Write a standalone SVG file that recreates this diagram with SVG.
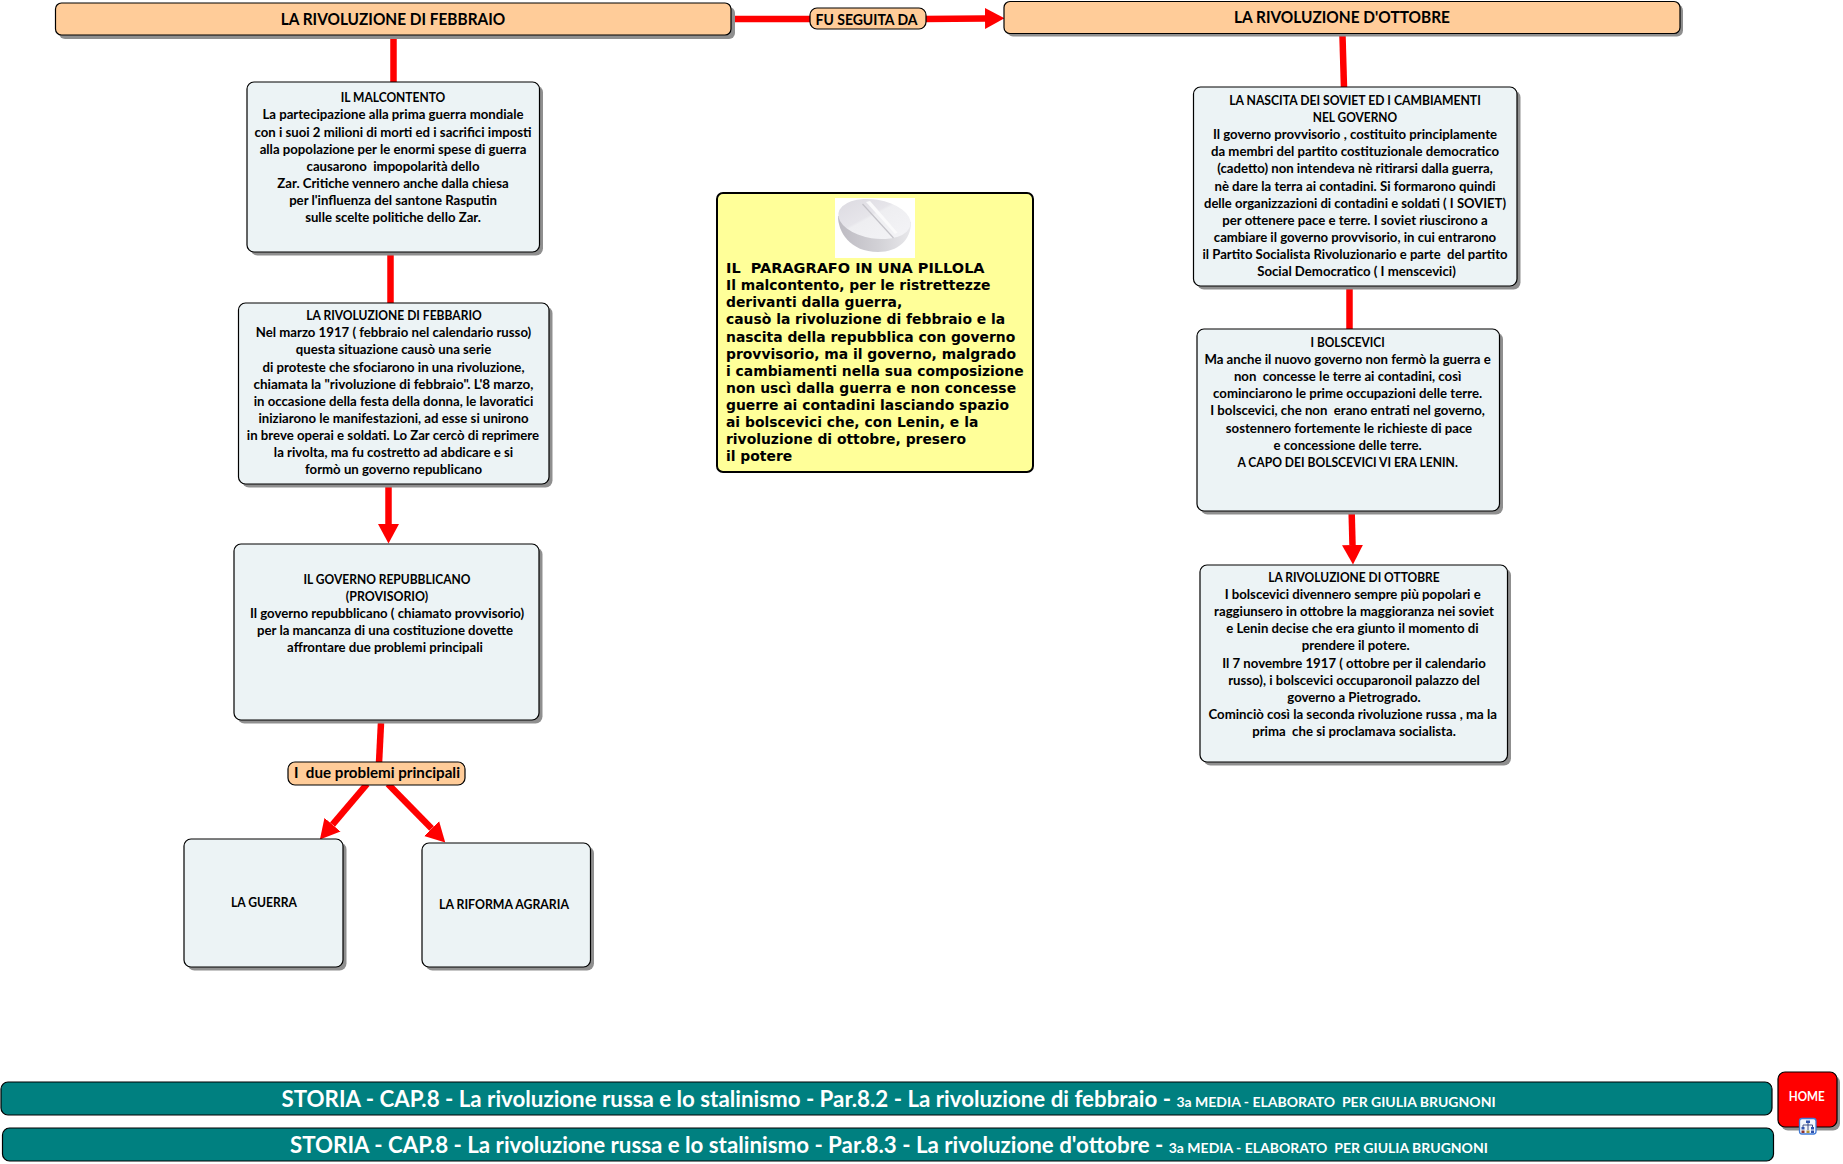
<svg xmlns="http://www.w3.org/2000/svg" width="1843" height="1164" viewBox="0 0 1843 1164">
<style>
text{font-family:Lato,Carlito,"Open Sans",sans-serif;font-weight:700;fill:#000;text-anchor:middle;white-space:pre;font-size:13.2px}
.shadow{fill:#8f8f8f;filter:url(#soft)}
.box{fill:#ecf3f5;stroke:#000;stroke-width:1.2}
.title{fill:#ffcc99;stroke:#000;stroke-width:1.2}
.teal{fill:#008080;stroke:#000;stroke-width:1.2}
.t16{font-size:16.4px}
.t15{font-size:14.2px}
text.w{fill:#fff}
.big{font-size:22.3px}
.small{font-size:14px}
.py text{font-family:"DejaVu Sans",sans-serif;font-size:13.9px;text-anchor:start;fill:#000}
#connectors path{fill:none;stroke:#f00;stroke-width:6.5}
</style>
<defs>
<filter id="soft" x="-5%" y="-5%" width="110%" height="110%"><feGaussianBlur stdDeviation="0.7"/></filter>
<marker id="head" markerUnits="userSpaceOnUse" markerWidth="20" markerHeight="22" refX="0" refY="11" orient="auto"><path d="M0 0.5L19.5 11L0 21.5z" fill="#f00"/></marker>
<linearGradient id="pillTop" x1="0" y1="0" x2="1" y2="0.700"><stop offset="0" stop-color="#dbd9e0"/><stop offset=".48" stop-color="#e6e5ea"/><stop offset=".52" stop-color="#eeeef1"/><stop offset="1" stop-color="#f3f3f6"/></linearGradient>
<linearGradient id="pillSide" x1="0" y1="0" x2="1" y2="0"><stop offset="0" stop-color="#bdbbc2"/><stop offset=".55" stop-color="#d2d1d6"/><stop offset="1" stop-color="#e8e8eb"/></linearGradient>
</defs>

<g id="connectors">
<path d="M733 19L812 19"/>
<path d="M924 19L985 18.5" marker-end="url(#head)"/>
<path d="M393.5 38L393.5 83"/>
<path d="M390.5 255L390.5 304"/>
<path d="M388.5 487L388.5 524" marker-end="url(#head)"/>
<path d="M381 723L379 763"/>
<path d="M367 784L332.5 824.7" marker-end="url(#head)"/>
<path d="M388 784L431.6 828.6" marker-end="url(#head)"/>
<path d="M1342.5 36L1344 88"/>
<path d="M1349.5 289L1349.5 330"/>
<path d="M1351.7 514L1352.5 545" marker-end="url(#head)"/>
</g>

<g id="n-febbraio-title"><rect class="shadow" x="59" y="7" width="676" height="32" rx="6"/><rect class="title" x="55.5" y="3" width="675.5" height="32" rx="6"/><text class="t16" x="393" y="24.7" textLength="224.500" lengthAdjust="spacingAndGlyphs">LA RIVOLUZIONE DI FEBBRAIO</text></g>
<g id="n-seguita"><rect class="title" x="810" y="8" width="116" height="21" rx="7"/><text class="t15" x="866.5" y="24.5" textLength="102" lengthAdjust="spacingAndGlyphs">FU SEGUITA DA</text></g>
<g id="n-ottobre-title"><rect class="shadow" x="1007" y="4.500" width="676" height="32" rx="6"/><rect class="title" x="1004" y="1.500" width="676" height="32" rx="6"/><text class="t16" x="1342" y="23.200" textLength="216" lengthAdjust="spacingAndGlyphs">LA RIVOLUZIONE D'OTTOBRE</text></g>

<g id="n-malcontento"><rect class="shadow" x="250.500" y="85.500" width="292.500" height="170" rx="7"/><rect class="box" x="247" y="82" width="292.500" height="170" rx="7"/>
<text x="393" y="102.300" textLength="104.600" lengthAdjust="spacingAndGlyphs">IL MALCONTENTO</text>
<text x="393" y="119.400">La partecipazione alla prima guerra mondiale</text>
<text x="393" y="136.500">con i suoi 2 milioni di morti ed i sacrifici imposti</text>
<text x="393" y="153.600">alla popolazione per le enormi spese di guerra</text>
<text x="393" y="170.700">causarono  impopolarità dello</text>
<text x="393" y="187.800">Zar. Critiche vennero anche dalla chiesa</text>
<text x="393" y="204.900">per l'influenza del santone Rasputin</text>
<text x="393" y="222">sulle scelte politiche dello Zar.</text>
</g>

<g id="n-febbraio"><rect class="shadow" x="242" y="306.500" width="310.500" height="181" rx="7"/><rect class="box" x="238.500" y="303" width="310.500" height="181" rx="7"/>
<text x="394" y="320.200" textLength="175.400" lengthAdjust="spacingAndGlyphs">LA RIVOLUZIONE DI FEBBARIO</text>
<text x="393.500" y="337.300">Nel marzo 1917 ( febbraio nel calendario russo)</text>
<text x="393.500" y="354.400">questa situazione causò una serie</text>
<text x="393.500" y="371.500">di proteste che sfociarono in una rivoluzione,</text>
<text x="393.500" y="388.600" textLength="280" lengthAdjust="spacingAndGlyphs">chiamata la "rivoluzione di febbraio". L'8 marzo,</text>
<text x="393.500" y="405.700">in occasione della festa della donna, le lavoratici</text>
<text x="393.500" y="422.800">iniziarono le manifestazioni, ad esse si unirono</text>
<text x="393" y="439.900">in breve operai e soldati. Lo Zar cercò di reprimere</text>
<text x="393.500" y="457">la rivolta, ma fu costretto ad abdicare e si</text>
<text x="393.500" y="474.100">formò un governo republicano</text>
</g>

<g id="n-governo"><rect class="shadow" x="237.500" y="547.500" width="305" height="176" rx="7"/><rect class="box" x="234" y="544" width="305" height="176" rx="7"/>
<text x="387" y="583.800" textLength="167" lengthAdjust="spacingAndGlyphs">IL GOVERNO REPUBBLICANO</text>
<text x="387" y="600.900" textLength="82.300" lengthAdjust="spacingAndGlyphs">(PROVISORIO)</text>
<text x="387" y="618">Il governo repubblicano ( chiamato provvisorio)</text>
<text x="385" y="635.100">per la mancanza di una costituzione dovette</text>
<text x="385" y="652.200">affrontare due problemi principali</text>
</g>

<g id="n-problemi"><rect class="title" x="288" y="762" width="177" height="23" rx="7"/><text class="t15" x="377" y="778" textLength="166" lengthAdjust="spacingAndGlyphs" style="font-size:15px">I  due problemi principali</text></g>
<g id="n-guerra"><rect class="shadow" x="187.500" y="842.500" width="159" height="128" rx="7"/><rect class="box" x="184" y="839" width="159" height="128" rx="7"/><text x="264" y="907" textLength="66" lengthAdjust="spacingAndGlyphs">LA GUERRA</text></g>
<g id="n-riforma"><rect class="shadow" x="425.500" y="846.500" width="168.500" height="124" rx="7"/><rect class="box" x="422" y="843" width="168.500" height="124" rx="7"/><text x="504" y="908.500" textLength="130" lengthAdjust="spacingAndGlyphs">LA RIFORMA AGRARIA</text></g>

<g id="n-pillola" class="py"><rect x="717" y="193" width="316" height="279" rx="6" fill="#ffff99" stroke="#000" stroke-width="2"/>
<rect x="835" y="198" width="80" height="60" fill="#fff"/>
<path d="M838 216C838 232 850 252 878 252C898 252 911 240 911 222z" fill="url(#pillSide)"/>
<ellipse cx="874.500" cy="219" rx="36.500" ry="19.500" fill="url(#pillTop)" transform="rotate(9 874.500 219)"/>
<path d="M866 202L895 234L897.500 232.500L870 201z" fill="#fafafb"/>
<path d="M862.500 204L893.500 238" stroke="#c4c3c9" stroke-width="1.200" fill="none"/>
<text x="726" y="273.300" textLength="258.600" lengthAdjust="spacingAndGlyphs">IL  PARAGRAFO IN UNA PILLOLA</text>
<text x="726" y="290.300">Il malcontento, per le ristrettezze</text>
<text x="726" y="307.400">derivanti dalla guerra,</text>
<text x="726" y="324.400">causò la rivoluzione di febbraio e la</text>
<text x="726" y="341.500">nascita della repubblica con governo</text>
<text x="726" y="358.500">provvisorio, ma il governo, malgrado</text>
<text x="726" y="375.500">i cambiamenti nella sua composizione</text>
<text x="726" y="392.600">non uscì dalla guerra e non concesse</text>
<text x="726" y="409.600">guerre ai contadini lasciando spazio</text>
<text x="726" y="426.700">ai bolscevici che, con Lenin, e la</text>
<text x="726" y="443.700">rivoluzione di ottobre, presero</text>
<text x="726" y="460.700">il potere</text>
</g>

<g id="n-nascita"><rect class="shadow" x="1197" y="90.500" width="323.500" height="199" rx="7"/><rect class="box" x="1193.500" y="87" width="323.500" height="199" rx="7"/>
<text x="1355" y="105" textLength="251.600" lengthAdjust="spacingAndGlyphs">LA NASCITA DEI SOVIET ED I CAMBIAMENTI</text>
<text x="1355" y="122.100" textLength="84.400" lengthAdjust="spacingAndGlyphs">NEL GOVERNO</text>
<text x="1355" y="139.200">Il governo provvisorio , costituito principlamente</text>
<text x="1355" y="156.300">da membri del partito costituzionale democratico</text>
<text x="1355" y="173.400">(cadetto) non intendeva nè ritirarsi dalla guerra,</text>
<text x="1355" y="190.500">nè dare la terra ai contadini. Si formarono quindi</text>
<text x="1355" y="207.600" textLength="302" lengthAdjust="spacingAndGlyphs">delle organizzazioni di contadini e soldati ( I SOVIET)</text>
<text x="1355" y="224.700">per ottenere pace e terre. I soviet riuscirono a</text>
<text x="1355" y="241.800">cambiare il governo provvisorio, in cui entrarono</text>
<text x="1355" y="258.900" textLength="305" lengthAdjust="spacingAndGlyphs">il Partito Socialista Rivoluzionario e parte  del partito</text>
<text x="1356.500" y="276">Social Democratico ( I menscevici)</text>
</g>

<g id="n-bolscevici"><rect class="shadow" x="1200.500" y="332.500" width="302.500" height="182" rx="7"/><rect class="box" x="1197" y="329" width="302.500" height="182" rx="7"/>
<text x="1347.600" y="347" textLength="74.200" lengthAdjust="spacingAndGlyphs">I BOLSCEVICI</text>
<text x="1347.600" y="364.100">Ma anche il nuovo governo non fermò la guerra e</text>
<text x="1347.600" y="381.200">non  concesse le terre ai contadini, così</text>
<text x="1347.600" y="398.300">cominciarono le prime occupazioni delle terre.</text>
<text x="1347.600" y="415.400">I bolscevici, che non  erano entrati nel governo,</text>
<text x="1349" y="432.500">sostennero fortemente le richieste di pace</text>
<text x="1347.600" y="449.600">e concessione delle terre.</text>
<text x="1347.600" y="466.700" textLength="220.400" lengthAdjust="spacingAndGlyphs">A CAPO DEI BOLSCEVICI VI ERA LENIN.</text>
</g>

<g id="n-ottobre"><rect class="shadow" x="1203.500" y="568.500" width="307.500" height="197" rx="7"/><rect class="box" x="1200" y="565" width="307.500" height="197" rx="7"/>
<text x="1354" y="582" textLength="171.300" lengthAdjust="spacingAndGlyphs">LA RIVOLUZIONE DI OTTOBRE</text>
<text x="1352.700" y="599.100">I bolscevici divennero sempre più popolari e</text>
<text x="1354" y="616.200">raggiunsero in ottobre la maggioranza nei soviet</text>
<text x="1352.500" y="633.300">e Lenin decise che era giunto il momento di</text>
<text x="1355.700" y="650.400">prendere il potere.</text>
<text x="1354" y="667.500">Il 7 novembre 1917 ( ottobre per il calendario</text>
<text x="1354" y="684.600">russo), i bolscevici occuparonoil palazzo del</text>
<text x="1354" y="701.700">governo a Pietrogrado.</text>
<text x="1352.700" y="718.800">Cominciò così la seconda rivoluzione russa , ma la</text>
<text x="1354" y="735.900">prima  che si proclamava socialista.</text>
</g>

<g id="n-bar1"><rect class="teal" x="1" y="1082" width="1771" height="33" rx="7"/><text class="w big" style="text-anchor:start" x="281.500" y="1106.700">STORIA - CAP.8 - La rivoluzione russa e lo stalinismo - Par.8.2 - La rivoluzione di febbraio - <tspan class="small">3a MEDIA - ELABORATO  PER GIULIA BRUGNONI</tspan></text></g>
<g id="n-bar2"><rect class="teal" x="2.500" y="1128" width="1771" height="33" rx="7"/><text class="w big" style="text-anchor:start" x="290" y="1152.700">STORIA - CAP.8 - La rivoluzione russa e lo stalinismo - Par.8.3 - La rivoluzione d'ottobre - <tspan class="small">3a MEDIA - ELABORATO  PER GIULIA BRUGNONI</tspan></text></g>

<g id="n-home"><rect class="shadow" x="1781" y="1075.500" width="59" height="55" rx="7"/><rect x="1778" y="1072" width="59" height="55" rx="7" fill="#f00" stroke="#000" stroke-width="1.200"/><text class="w" x="1806.700" y="1101" textLength="36" lengthAdjust="spacingAndGlyphs">HOME</text>
<rect x="1799.500" y="1118.500" width="16.500" height="15.500" rx="2.500" fill="#f2f6fc" stroke="#3f7ad6" stroke-width="1.300"/>
<path d="M1808 1122V1130M1803 1128V1125H1812.500V1128" fill="none" stroke="#2c3f7a" stroke-width="0.900"/>
<rect x="1806" y="1120.500" width="4" height="2.500" fill="#2f52ad"/><rect x="1801.500" y="1127" width="3" height="2.500" fill="#2f52ad"/><rect x="1811" y="1127" width="3" height="2.500" fill="#2f52ad"/><rect x="1801.500" y="1130.500" width="3" height="2.500" fill="#8a3030"/><rect x="1806.500" y="1130.500" width="3" height="2.500" fill="#b09030"/><rect x="1811" y="1130.500" width="3" height="2.500" fill="#2f52ad"/></g>
</svg>
